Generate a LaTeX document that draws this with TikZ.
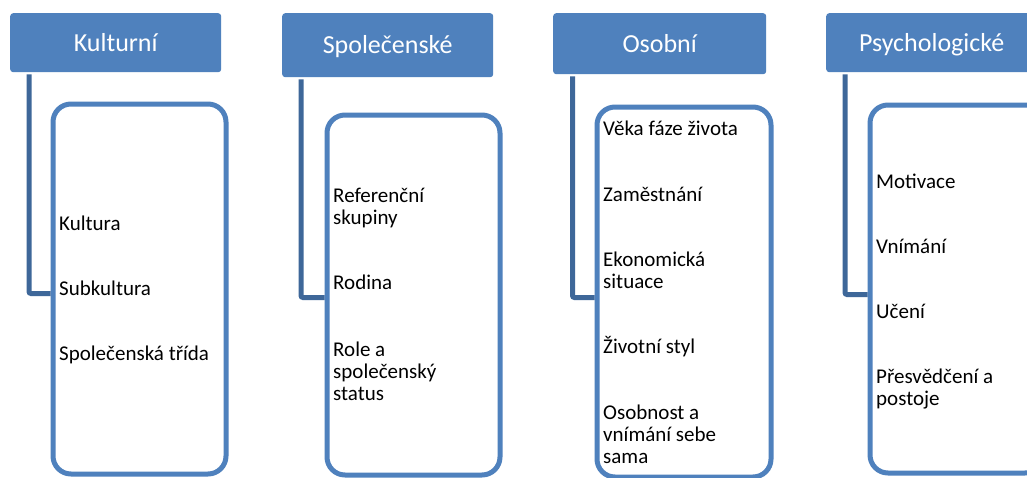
\documentclass[tikz,border=0pt]{standalone}
\usepackage{fontspec}
\setmainfont{Carlito}
\definecolor{hdrblue}{HTML}{4F81BD}
\definecolor{connblue}{HTML}{3E6799}
\tikzset{
 hdr/.style={rectangle, rounded corners=3pt, fill=hdrblue, text=white, minimum width=211pt, minimum height=59pt, inner sep=0pt, text height=17pt, text depth=0pt, anchor=north west, font=\fontsize{26}{30}\selectfont},
 cbox/.style={rectangle, draw=hdrblue, line width=5pt, rounded corners=18pt, fill=white, inner sep=0pt, anchor=north west, minimum width=173pt, minimum height=370pt},
 item/.style={anchor=base west, inner sep=0pt, align=left, font=\fontsize{21}{22}\selectfont},
 conn/.style={draw=connblue, line width=5pt, rounded corners=2pt},
}
\begin{document}
\begin{tikzpicture}[x=1pt,y=-1pt]
\useasboundingbox (0,0) rectangle (1027,477);
\clip (0,0) rectangle (1027,477);
\fill[white] (0,0) rectangle (1027,477);
% headers
\node[hdr, minimum height=59pt] (h1) at (10,13) {Kulturní};
\node[hdr, minimum height=64pt] (h2) at (282,13) {Společenské};
\node[hdr, minimum height=61pt, minimum width=213pt] (h3) at (553,13) {Osobní};
\node[hdr, minimum height=59pt] (h4) at (826,13) {Psychologické};
% content boxes
\node[cbox] (b1) at (50.5,101.5) {};
\node[cbox, minimum height=360pt] (b2) at (324.5,112.5) {};
\node[cbox, minimum width=174pt] (b3) at (594.5,104.5) {};
\node[cbox, minimum height=368pt] (b4) at (867.5,102.5) {};
% connectors
\draw[conn] ([xshift=19pt,yshift=-2pt]h1.south west) |- ([yshift=-4.5pt]b1.west);
\draw[conn] ([xshift=19pt,yshift=-2pt]h2.south west) |- ([yshift=-2.5pt]b2.west);
\draw[conn] ([xshift=19.5pt,yshift=-2pt]h3.south west) |- ([yshift=-5.5pt]b3.west);
\draw[conn] ([xshift=19pt,yshift=-2pt]h4.south west) |- ([yshift=-5.5pt]b4.west);
% texts (multi-line nodes: base = last line's baseline)
\node[item] (t11) at (59,230) {Kultura};
\node[item] (t12) at (59,295) {Subkultura};
\node[item] (t13) at (59,360) {Společenská třída};
\node[item] (t21) at (333,224) {Referenční\\skupiny};
\node[item] (t22) at (333,289) {Rodina};
\node[item] (t23) at (333,400) {Role a\\společenský\\status};
\node[item] (t31) at (603,135) {Věka fáze života};
\node[item] (t32) at (603,201) {Zaměstnání};
\node[item] (t33) at (603,288) {Ekonomická\\situace};
\node[item] (t34) at (603,353) {Životní styl};
\node[item] (t35) at (603,463) {Osobnost a\\vnímání sebe\\sama};
\node[item] (t41) at (876,188) {Motivace};
\node[item] (t42) at (876,253) {Vnímání};
\node[item] (t43) at (876,318) {Učení};
\node[item] (t44) at (876,405) {Přesvědčení a\\postoje};
\end{tikzpicture}
\end{document}
